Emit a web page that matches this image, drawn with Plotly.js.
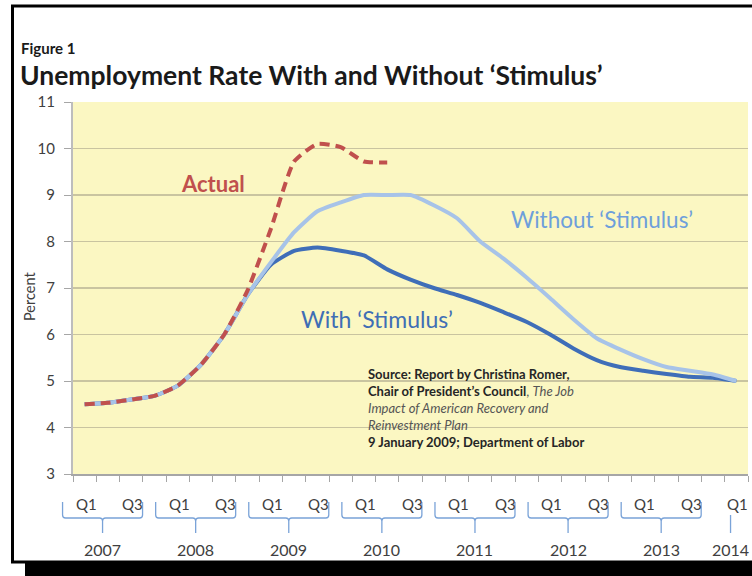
<!DOCTYPE html>
<html>
<head>
<meta charset="utf-8">
<script src="https://cdn.plot.ly/plotly-3.0.1.min.js"></script>
<style>html,body{margin:0;padding:0;background:#fff;}#chart{width:752px;height:576px;}</style>
</head>
<body>
<div id="chart"></div>
<script>
// ---- data ----
const years = ['2007','2008','2009','2010','2011','2012','2013','2014'];
const quarterNames = ['Q1','Q2','Q3','Q4'];
// quarter index 0 = 2007 Q1 ... 28 = 2014 Q1
const actualRate = [4.5, 4.53, 4.6, 4.68, 4.9, 5.35, 6.0, 6.95, 8.27, 9.72, 10.1, 10.03, 9.72, 9.7];
const withStimulus = [4.5, 4.53, 4.6, 4.68, 4.9, 5.35, 6.0, 6.85, 7.5, 7.8, 7.87, 7.8, 7.7, 7.4, 7.18, 7.0, 6.85, 6.68, 6.48, 6.27, 6.0, 5.7, 5.45, 5.3, 5.22, 5.15, 5.09, 5.07, 5.0];
const withoutStimulus = [4.5, 4.53, 4.6, 4.68, 4.9, 5.35, 6.0, 6.85, 7.55, 8.2, 8.65, 8.84, 9.0, 9.0, 9.0, 8.78, 8.5, 8.0, 7.63, 7.22, 6.78, 6.33, 5.92, 5.68, 5.47, 5.3, 5.22, 5.14, 5.0];
const yTicks = [3,4,5,6,7,8,9,10,11];

// ---- quarter labels derived from years ----
const qIndex = [], qText = [];
years.forEach((y, k) => {
  quarterNames.forEach((q, j) => {
    const i = k * 4 + j;
    if (i <= 28 && (q === 'Q1' || q === 'Q3')) { qIndex.push(i); qText.push(q); }
  });
});
const idx = n => Array.from({length: n}, (_, i) => i);

// ---- geometry helpers (plot area: x 73..748, y 102..474) ----
const L = 73, R = 4, T = 102, B = 102, W = 752, H = 576;
const PW = W - L - R, PH = H - T - B;
const NQ = 29;
const xp = i => (i + 0.5) / NQ;              // quarter index -> paper x
const pxX = px => (px - L) / PW;             // pixel -> paper x
const pxY = py => (T + PH - py) / PH;        // pixel -> paper y

const FONT = 'Lato, "Open Sans", sans-serif';
const annotations = [];
const shapes = [];

// Q labels
qIndex.forEach((i, n) => {
  annotations.push({xref: 'paper', yref: 'paper', x: xp(i) + 1.5 / PW, y: pxY(504), text: qText[n],
    showarrow: false, xanchor: 'center', yanchor: 'middle', font: {family: FONT, size: 15, color: '#404040'}});
});

// braces and year labels
const braceCol = '#7AA3D8';
const halfW = 40 / PW;
years.forEach((y, k) => {
  const full = (k * 4 + 3) <= 28;
  const cx = full ? xp(k * 4 + 0.77) : xp(k * 4 - 0.25);
  annotations.push({xref: 'paper', yref: 'paper', x: cx, y: pxY(549), text: y,
    showarrow: false, xanchor: 'center', yanchor: 'middle', font: {family: FONT, size: 16, color: '#404040'}});
  const yT = pxY(502), yM = pxY(518), yB = pxY(533), yM2 = pxY(515), yM3 = pxY(521);
  if (full) {
    const l = cx - halfW, r = cx + halfW, d = 3 / PW;
    const path = `M ${l},${yT} L ${l},${yM2} Q ${l},${yM} ${l + d},${yM} L ${cx - d},${yM} Q ${cx},${yM} ${cx},${yM3} L ${cx},${yB} M ${cx},${yM3} Q ${cx},${yM} ${cx + d},${yM} L ${r - d},${yM} Q ${r},${yM} ${r},${yM2} L ${r},${yT}`;
    shapes.push({type: 'path', xref: 'paper', yref: 'paper', path: path, line: {color: braceCol, width: 1.3}});
  } else {
    shapes.push({type: 'line', xref: 'paper', yref: 'paper', x0: cx, x1: cx, y0: pxY(515), y1: yB, line: {color: braceCol, width: 1.3}});
  }
});

// chart texts
annotations.push(
  {xref: 'paper', yref: 'paper', x: pxX(19), y: pxY(48), text: '<b>Figure 1</b>', showarrow: false, xanchor: 'left', yanchor: 'middle', font: {family: FONT, size: 15, color: '#1a1a1a'}},
  {xref: 'paper', yref: 'paper', x: pxX(18), y: pxY(75), text: '<b>Unemployment Rate With and Without ‘Stimulus’</b>', showarrow: false, xanchor: 'left', yanchor: 'middle', font: {family: FONT, size: 26.5, color: '#1a1a1a'}},
  {xref: 'paper', yref: 'paper', x: pxX(29), y: pxY(297), text: 'Percent', textangle: -90, showarrow: false, xanchor: 'center', yanchor: 'middle', font: {family: FONT, size: 14.5, color: '#404040'}},
  {xref: 'paper', yref: 'paper', x: pxX(213), y: pxY(183), text: '<b>Actual</b>', showarrow: false, xanchor: 'center', yanchor: 'middle', font: {family: FONT, size: 22, color: '#C0504D'}},
  {xref: 'paper', yref: 'paper', x: pxX(377), y: pxY(319), text: 'With ‘Stimulus’', showarrow: false, xanchor: 'center', yanchor: 'middle', font: {family: FONT, size: 23, color: '#3F6EB5'}},
  {xref: 'paper', yref: 'paper', x: pxX(602), y: pxY(219), text: 'Without ‘Stimulus’', showarrow: false, xanchor: 'center', yanchor: 'middle', font: {family: FONT, size: 22.5, color: '#6E9FDB'}}
);
const srcLines = [
  {t: '<b>Source: Report by Christina Romer,</b>', y: 374},
  {t: '<b>Chair of President’s Council</b><span style="color:#555">, <i>The Job</i></span>', y: 391},
  {t: '<span style="color:#555"><i>Impact of American Recovery and</i></span>', y: 408},
  {t: '<span style="color:#555"><i>Reinvestment Plan</i></span>', y: 425},
  {t: '<b>9 January 2009; Department of Labor</b>', y: 442}
];
srcLines.forEach(s => annotations.push({xref: 'paper', yref: 'paper', x: pxX(366), y: pxY(s.y), text: s.t, showarrow: false,
  xanchor: 'left', yanchor: 'middle', align: 'left', font: {family: FONT, size: 13, color: '#262626'}}));

// frame
shapes.push(
  {type: 'line', xref: 'paper', yref: 'paper', x0: pxX(11), x1: pxX(760), y0: pxY(6), y1: pxY(6), line: {color: '#000', width: 3}},
  {type: 'line', xref: 'paper', yref: 'paper', x0: pxX(12.5), x1: pxX(12.5), y0: pxY(5), y1: pxY(563), line: {color: '#000', width: 3}},
  {type: 'line', xref: 'paper', yref: 'paper', x0: pxX(11), x1: pxX(760), y0: pxY(562), y1: pxY(562), line: {color: '#000', width: 3}},
  {type: 'rect', xref: 'paper', yref: 'paper', x0: pxX(25), x1: pxX(760), y0: pxY(562), y1: pxY(580), fillcolor: '#000', line: {width: 0}}
);

const traces = [
  {x: idx(withStimulus.length), y: withStimulus, type: 'scatter', mode: 'lines', name: 'With Stimulus',
    line: {color: '#3F6EB8', width: 4, shape: 'spline', smoothing: 0.5}},
  {x: idx(withoutStimulus.length), y: withoutStimulus, type: 'scatter', mode: 'lines', name: 'Without Stimulus',
    line: {color: '#A7C3E8', width: 4, shape: 'spline', smoothing: 0.5}},
  {x: idx(actualRate.length), y: actualRate, type: 'scatter', mode: 'lines', name: 'Actual',
    line: {color: '#C0504D', width: 4, dash: '10px,6px', shape: 'spline', smoothing: 0.5}}
];

const tickVals = Array.from({length: NQ + 1}, (_, i) => i - 0.5);
const layout = {
  width: W, height: H,
  margin: {l: L, r: R, t: T, b: B},
  paper_bgcolor: '#ffffff',
  plot_bgcolor: '#FBF7C2',
  showlegend: false,
  xaxis: {range: [-0.5, NQ - 0.5], tickvals: tickVals, ticktext: tickVals.map(() => ''), ticks: 'outside', ticklen: 6,
    tickcolor: '#A6A6A6', showline: true, linecolor: '#A6A6A6', linewidth: 1.5, showgrid: false, zeroline: false, fixedrange: true},
  yaxis: {range: [3, 11], tickvals: yTicks, ticks: 'outside', ticklen: 7, tickcolor: '#A6A6A6', showline: true,
    linecolor: '#BDBDBD', linewidth: 2, gridcolor: '#C9C4A0', gridwidth: 1.2, zeroline: false, ticklabelstandoff: 6,
    tickfont: {family: FONT, size: 15, color: '#404040'}, fixedrange: true},
  annotations: annotations,
  shapes: shapes
};
Plotly.newPlot('chart', traces, layout, {staticPlot: true});
</script>
</body>
</html>
